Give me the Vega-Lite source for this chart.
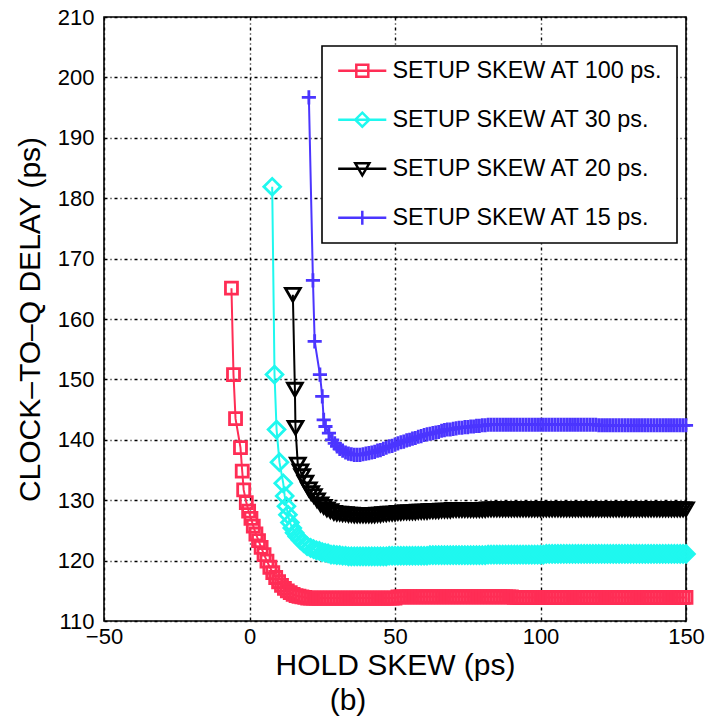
{
  "$schema": "https://vega.github.io/schema/vega-lite/v6.json",
  "width": 582,
  "height": 604,
  "autosize": {"type": "none"},
  "padding": {"left": 104, "top": 17, "right": 21, "bottom": 99},
  "background": "white",
  "config": {
    "font": "Liberation Sans",
    "view": {"stroke": "black", "strokeWidth": 1.6},
    "axis": {
      "domain": false,
      "ticks": false,
      "grid": true,
      "gridColor": "black",
      "gridDash": [3, 3, 1, 3],
      "gridWidth": 1.4,
      "gridOpacity": 1,
      "labelFont": "Liberation Sans",
      "labelFontSize": 22,
      "labelColor": "black",
      "titleFont": "Liberation Sans",
      "titleFontSize": 30,
      "titleFontWeight": "normal",
      "titleColor": "black"
    },
    "legend": {
      "orient": "none",
      "legendX": 218,
      "legendY": 29,
      "padding": 13,
      "strokeColor": "black",
      "strokeWidth": 1.6,
      "fillColor": "white",
      "labelFont": "Liberation Sans",
      "labelFontSize": 23.4,
      "labelColor": "black",
      "labelLimit": 400,
      "labelOffset": 34,
      "symbolSize": 144,
      "symbolStrokeWidth": 2.5,
      "symbolOpacity": 1,
      "rowPadding": 24
    }
  },
  "title": {
    "text": "(b)",
    "orient": "bottom",
    "anchor": "middle",
    "font": "Liberation Sans",
    "fontSize": 30,
    "fontWeight": "normal",
    "color": "black",
    "dx": -47,
    "offset": 6
  },
  "data": {
    "values": [
      {"s": "100", "x": -6.2, "y": 165.1},
      {"s": "100", "x": -5.5, "y": 150.8},
      {"s": "100", "x": -4.8, "y": 143.5},
      {"s": "100", "x": -3.1, "y": 138.7},
      {"s": "100", "x": -2.5, "y": 134.8},
      {"s": "100", "x": -2.0, "y": 131.7},
      {"s": "100", "x": -1.1, "y": 129.6},
      {"s": "100", "x": -0.3, "y": 128.2},
      {"s": "100", "x": 0.5, "y": 127.0},
      {"s": "100", "x": 1.3, "y": 125.7},
      {"s": "100", "x": 2.2, "y": 124.4},
      {"s": "100", "x": 3.1, "y": 123.3},
      {"s": "100", "x": 4, "y": 122.2},
      {"s": "100", "x": 5, "y": 121.0},
      {"s": "100", "x": 6, "y": 119.9},
      {"s": "100", "x": 7, "y": 118.9},
      {"s": "100", "x": 8, "y": 118.0},
      {"s": "100", "x": 9, "y": 117.2},
      {"s": "100", "x": 10, "y": 116.5},
      {"s": "100", "x": 11, "y": 115.9},
      {"s": "100", "x": 12, "y": 115.4},
      {"s": "100", "x": 13, "y": 115.0},
      {"s": "100", "x": 14, "y": 114.7},
      {"s": "100", "x": 15, "y": 114.4},
      {"s": "100", "x": 16, "y": 114.2},
      {"s": "100", "x": 17, "y": 114.1},
      {"s": "100", "x": 18, "y": 114.0},
      {"s": "100", "x": 19, "y": 113.9},
      {"s": "100", "x": 20, "y": 113.8},
      {"s": "100", "x": 21, "y": 113.8},
      {"s": "100", "x": 22, "y": 113.8},
      {"s": "100", "x": 23, "y": 113.8},
      {"s": "100", "x": 24, "y": 113.8},
      {"s": "100", "x": 25, "y": 113.8},
      {"s": "100", "x": 26, "y": 113.8},
      {"s": "100", "x": 27, "y": 113.8},
      {"s": "100", "x": 28, "y": 113.8},
      {"s": "100", "x": 29, "y": 113.8},
      {"s": "100", "x": 30, "y": 113.8},
      {"s": "100", "x": 31, "y": 113.8},
      {"s": "100", "x": 32, "y": 113.8},
      {"s": "100", "x": 33, "y": 113.8},
      {"s": "100", "x": 34, "y": 113.8},
      {"s": "100", "x": 35, "y": 113.8},
      {"s": "100", "x": 36, "y": 113.8},
      {"s": "100", "x": 37, "y": 113.8},
      {"s": "100", "x": 38, "y": 113.8},
      {"s": "100", "x": 39, "y": 113.8},
      {"s": "100", "x": 40, "y": 113.8},
      {"s": "100", "x": 41, "y": 113.8},
      {"s": "100", "x": 42, "y": 113.8},
      {"s": "100", "x": 43, "y": 113.8},
      {"s": "100", "x": 44, "y": 113.8},
      {"s": "100", "x": 45, "y": 113.8},
      {"s": "100", "x": 46, "y": 113.8},
      {"s": "100", "x": 47, "y": 113.8},
      {"s": "100", "x": 48, "y": 113.8},
      {"s": "100", "x": 49, "y": 113.8},
      {"s": "100", "x": 50, "y": 113.8},
      {"s": "100", "x": 51, "y": 114.0},
      {"s": "100", "x": 52, "y": 114.0},
      {"s": "100", "x": 53, "y": 114.0},
      {"s": "100", "x": 54, "y": 114.0},
      {"s": "100", "x": 55, "y": 114.0},
      {"s": "100", "x": 56, "y": 114.0},
      {"s": "100", "x": 57, "y": 114.0},
      {"s": "100", "x": 58, "y": 114.0},
      {"s": "100", "x": 59, "y": 114.0},
      {"s": "100", "x": 60, "y": 114.0},
      {"s": "100", "x": 61, "y": 114.0},
      {"s": "100", "x": 62, "y": 114.0},
      {"s": "100", "x": 63, "y": 114.0},
      {"s": "100", "x": 64, "y": 114.0},
      {"s": "100", "x": 65, "y": 114.0},
      {"s": "100", "x": 66, "y": 114.0},
      {"s": "100", "x": 67, "y": 114.0},
      {"s": "100", "x": 68, "y": 114.0},
      {"s": "100", "x": 69, "y": 114.0},
      {"s": "100", "x": 70, "y": 114.0},
      {"s": "100", "x": 71, "y": 114.0},
      {"s": "100", "x": 72, "y": 114.0},
      {"s": "100", "x": 73, "y": 114.0},
      {"s": "100", "x": 74, "y": 114.0},
      {"s": "100", "x": 75, "y": 114.0},
      {"s": "100", "x": 76, "y": 114.0},
      {"s": "100", "x": 77, "y": 114.0},
      {"s": "100", "x": 78, "y": 114.0},
      {"s": "100", "x": 79, "y": 114.0},
      {"s": "100", "x": 80, "y": 114.0},
      {"s": "100", "x": 81, "y": 114.0},
      {"s": "100", "x": 82, "y": 114.0},
      {"s": "100", "x": 83, "y": 114.0},
      {"s": "100", "x": 84, "y": 114.0},
      {"s": "100", "x": 85, "y": 114.0},
      {"s": "100", "x": 86, "y": 114.0},
      {"s": "100", "x": 87, "y": 114.0},
      {"s": "100", "x": 88, "y": 114.0},
      {"s": "100", "x": 89, "y": 114.0},
      {"s": "100", "x": 90, "y": 114.0},
      {"s": "100", "x": 91, "y": 113.9},
      {"s": "100", "x": 92, "y": 113.9},
      {"s": "100", "x": 93, "y": 113.9},
      {"s": "100", "x": 94, "y": 113.9},
      {"s": "100", "x": 95, "y": 113.9},
      {"s": "100", "x": 96, "y": 113.9},
      {"s": "100", "x": 97, "y": 113.9},
      {"s": "100", "x": 98, "y": 113.9},
      {"s": "100", "x": 99, "y": 113.9},
      {"s": "100", "x": 100, "y": 113.9},
      {"s": "100", "x": 101, "y": 113.9},
      {"s": "100", "x": 102, "y": 113.9},
      {"s": "100", "x": 103, "y": 113.9},
      {"s": "100", "x": 104, "y": 113.9},
      {"s": "100", "x": 105, "y": 113.9},
      {"s": "100", "x": 106, "y": 113.9},
      {"s": "100", "x": 107, "y": 113.9},
      {"s": "100", "x": 108, "y": 113.9},
      {"s": "100", "x": 109, "y": 113.9},
      {"s": "100", "x": 110, "y": 113.9},
      {"s": "100", "x": 111, "y": 113.9},
      {"s": "100", "x": 112, "y": 113.9},
      {"s": "100", "x": 113, "y": 113.9},
      {"s": "100", "x": 114, "y": 113.9},
      {"s": "100", "x": 115, "y": 113.9},
      {"s": "100", "x": 116, "y": 113.9},
      {"s": "100", "x": 117, "y": 113.9},
      {"s": "100", "x": 118, "y": 113.9},
      {"s": "100", "x": 119, "y": 113.9},
      {"s": "100", "x": 120, "y": 113.9},
      {"s": "100", "x": 121, "y": 113.9},
      {"s": "100", "x": 122, "y": 113.9},
      {"s": "100", "x": 123, "y": 113.9},
      {"s": "100", "x": 124, "y": 113.9},
      {"s": "100", "x": 125, "y": 113.9},
      {"s": "100", "x": 126, "y": 113.9},
      {"s": "100", "x": 127, "y": 113.9},
      {"s": "100", "x": 128, "y": 113.9},
      {"s": "100", "x": 129, "y": 113.9},
      {"s": "100", "x": 130, "y": 113.9},
      {"s": "100", "x": 131, "y": 113.9},
      {"s": "100", "x": 132, "y": 113.9},
      {"s": "100", "x": 133, "y": 113.9},
      {"s": "100", "x": 134, "y": 113.9},
      {"s": "100", "x": 135, "y": 113.9},
      {"s": "100", "x": 136, "y": 113.9},
      {"s": "100", "x": 137, "y": 113.9},
      {"s": "100", "x": 138, "y": 113.9},
      {"s": "100", "x": 139, "y": 113.9},
      {"s": "100", "x": 140, "y": 113.9},
      {"s": "100", "x": 141, "y": 113.9},
      {"s": "100", "x": 142, "y": 113.9},
      {"s": "100", "x": 143, "y": 113.9},
      {"s": "100", "x": 144, "y": 113.9},
      {"s": "100", "x": 145, "y": 113.9},
      {"s": "100", "x": 146, "y": 113.9},
      {"s": "100", "x": 147, "y": 113.9},
      {"s": "100", "x": 148, "y": 113.9},
      {"s": "100", "x": 149, "y": 113.9},
      {"s": "100", "x": 150, "y": 113.9},

      {"s": "30", "x": 7.8, "y": 181.9},
      {"s": "30", "x": 8.6, "y": 150.8},
      {"s": "30", "x": 9.3, "y": 141.7},
      {"s": "30", "x": 10.3, "y": 136.3},
      {"s": "30", "x": 11.6, "y": 132.8},
      {"s": "30", "x": 12.1, "y": 130.7},
      {"s": "30", "x": 12.7, "y": 129.0},
      {"s": "30", "x": 13.2, "y": 127.6},
      {"s": "30", "x": 13.9, "y": 126.3},
      {"s": "30", "x": 14.7, "y": 125.4},
      {"s": "30", "x": 15.5, "y": 124.6},
      {"s": "30", "x": 16.4, "y": 124.0},
      {"s": "30", "x": 17.5, "y": 123.4},
      {"s": "30", "x": 18.6, "y": 122.9},
      {"s": "30", "x": 19.8, "y": 122.4},
      {"s": "30", "x": 21, "y": 122.1},
      {"s": "30", "x": 22, "y": 121.9},
      {"s": "30", "x": 23, "y": 121.7},
      {"s": "30", "x": 24, "y": 121.6},
      {"s": "30", "x": 25, "y": 121.4},
      {"s": "30", "x": 26, "y": 121.3},
      {"s": "30", "x": 27, "y": 121.2},
      {"s": "30", "x": 28, "y": 121.0},
      {"s": "30", "x": 29, "y": 121.0},
      {"s": "30", "x": 30, "y": 120.9},
      {"s": "30", "x": 31, "y": 120.9},
      {"s": "30", "x": 32, "y": 120.8},
      {"s": "30", "x": 33, "y": 120.8},
      {"s": "30", "x": 34, "y": 120.7},
      {"s": "30", "x": 35, "y": 120.7},
      {"s": "30", "x": 36, "y": 120.7},
      {"s": "30", "x": 37, "y": 120.7},
      {"s": "30", "x": 38, "y": 120.7},
      {"s": "30", "x": 39, "y": 120.7},
      {"s": "30", "x": 40, "y": 120.7},
      {"s": "30", "x": 41, "y": 120.7},
      {"s": "30", "x": 42, "y": 120.7},
      {"s": "30", "x": 43, "y": 120.7},
      {"s": "30", "x": 44, "y": 120.7},
      {"s": "30", "x": 45, "y": 120.7},
      {"s": "30", "x": 46, "y": 120.7},
      {"s": "30", "x": 47, "y": 120.7},
      {"s": "30", "x": 48, "y": 120.8},
      {"s": "30", "x": 49, "y": 120.8},
      {"s": "30", "x": 50, "y": 120.8},
      {"s": "30", "x": 51, "y": 120.8},
      {"s": "30", "x": 52, "y": 120.8},
      {"s": "30", "x": 53, "y": 120.8},
      {"s": "30", "x": 54, "y": 120.8},
      {"s": "30", "x": 55, "y": 120.8},
      {"s": "30", "x": 56, "y": 120.8},
      {"s": "30", "x": 57, "y": 120.8},
      {"s": "30", "x": 58, "y": 120.8},
      {"s": "30", "x": 59, "y": 120.8},
      {"s": "30", "x": 60, "y": 120.8},
      {"s": "30", "x": 61, "y": 120.8},
      {"s": "30", "x": 62, "y": 120.9},
      {"s": "30", "x": 63, "y": 120.9},
      {"s": "30", "x": 64, "y": 120.9},
      {"s": "30", "x": 65, "y": 120.9},
      {"s": "30", "x": 66, "y": 120.9},
      {"s": "30", "x": 67, "y": 120.9},
      {"s": "30", "x": 68, "y": 120.9},
      {"s": "30", "x": 69, "y": 120.9},
      {"s": "30", "x": 70, "y": 120.9},
      {"s": "30", "x": 71, "y": 120.9},
      {"s": "30", "x": 72, "y": 120.9},
      {"s": "30", "x": 73, "y": 120.9},
      {"s": "30", "x": 74, "y": 120.9},
      {"s": "30", "x": 75, "y": 120.9},
      {"s": "30", "x": 76, "y": 120.9},
      {"s": "30", "x": 77, "y": 120.9},
      {"s": "30", "x": 78, "y": 120.9},
      {"s": "30", "x": 79, "y": 120.9},
      {"s": "30", "x": 80, "y": 120.9},
      {"s": "30", "x": 81, "y": 120.9},
      {"s": "30", "x": 82, "y": 121.0},
      {"s": "30", "x": 83, "y": 121.0},
      {"s": "30", "x": 84, "y": 121.0},
      {"s": "30", "x": 85, "y": 121.0},
      {"s": "30", "x": 86, "y": 121.0},
      {"s": "30", "x": 87, "y": 121.0},
      {"s": "30", "x": 88, "y": 121.0},
      {"s": "30", "x": 89, "y": 121.0},
      {"s": "30", "x": 90, "y": 121.0},
      {"s": "30", "x": 91, "y": 121.0},
      {"s": "30", "x": 92, "y": 121.0},
      {"s": "30", "x": 93, "y": 121.0},
      {"s": "30", "x": 94, "y": 121.0},
      {"s": "30", "x": 95, "y": 121.0},
      {"s": "30", "x": 96, "y": 121.0},
      {"s": "30", "x": 97, "y": 121.0},
      {"s": "30", "x": 98, "y": 121.0},
      {"s": "30", "x": 99, "y": 121.0},
      {"s": "30", "x": 100, "y": 121.0},
      {"s": "30", "x": 101, "y": 121.0},
      {"s": "30", "x": 102, "y": 121.1},
      {"s": "30", "x": 103, "y": 121.1},
      {"s": "30", "x": 104, "y": 121.1},
      {"s": "30", "x": 105, "y": 121.1},
      {"s": "30", "x": 106, "y": 121.1},
      {"s": "30", "x": 107, "y": 121.1},
      {"s": "30", "x": 108, "y": 121.1},
      {"s": "30", "x": 109, "y": 121.1},
      {"s": "30", "x": 110, "y": 121.1},
      {"s": "30", "x": 111, "y": 121.1},
      {"s": "30", "x": 112, "y": 121.1},
      {"s": "30", "x": 113, "y": 121.1},
      {"s": "30", "x": 114, "y": 121.1},
      {"s": "30", "x": 115, "y": 121.1},
      {"s": "30", "x": 116, "y": 121.1},
      {"s": "30", "x": 117, "y": 121.1},
      {"s": "30", "x": 118, "y": 121.1},
      {"s": "30", "x": 119, "y": 121.1},
      {"s": "30", "x": 120, "y": 121.1},
      {"s": "30", "x": 121, "y": 121.1},
      {"s": "30", "x": 122, "y": 121.1},
      {"s": "30", "x": 123, "y": 121.1},
      {"s": "30", "x": 124, "y": 121.1},
      {"s": "30", "x": 125, "y": 121.1},
      {"s": "30", "x": 126, "y": 121.1},
      {"s": "30", "x": 127, "y": 121.1},
      {"s": "30", "x": 128, "y": 121.1},
      {"s": "30", "x": 129, "y": 121.1},
      {"s": "30", "x": 130, "y": 121.1},
      {"s": "30", "x": 131, "y": 121.1},
      {"s": "30", "x": 132, "y": 121.1},
      {"s": "30", "x": 133, "y": 121.1},
      {"s": "30", "x": 134, "y": 121.1},
      {"s": "30", "x": 135, "y": 121.1},
      {"s": "30", "x": 136, "y": 121.1},
      {"s": "30", "x": 137, "y": 121.1},
      {"s": "30", "x": 138, "y": 121.1},
      {"s": "30", "x": 139, "y": 121.1},
      {"s": "30", "x": 140, "y": 121.1},
      {"s": "30", "x": 141, "y": 121.1},
      {"s": "30", "x": 142, "y": 121.1},
      {"s": "30", "x": 143, "y": 121.1},
      {"s": "30", "x": 144, "y": 121.1},
      {"s": "30", "x": 145, "y": 121.1},
      {"s": "30", "x": 146, "y": 121.1},
      {"s": "30", "x": 147, "y": 121.1},
      {"s": "30", "x": 148, "y": 121.1},
      {"s": "30", "x": 149, "y": 121.1},
      {"s": "30", "x": 150, "y": 121.1},

      {"s": "20", "x": 14.9, "y": 164.0},
      {"s": "20", "x": 15.6, "y": 148.3},
      {"s": "20", "x": 15.8, "y": 142.0},
      {"s": "20", "x": 16.6, "y": 135.9},
      {"s": "20", "x": 17.5, "y": 134.8},
      {"s": "20", "x": 18.1, "y": 134.0},
      {"s": "20", "x": 19.2, "y": 132.9},
      {"s": "20", "x": 20.4, "y": 131.8},
      {"s": "20", "x": 21.2, "y": 131.2},
      {"s": "20", "x": 22.1, "y": 130.7},
      {"s": "20", "x": 23.2, "y": 130.0},
      {"s": "20", "x": 24.4, "y": 129.3},
      {"s": "20", "x": 25.5, "y": 128.9},
      {"s": "20", "x": 26.6, "y": 128.5},
      {"s": "20", "x": 27.8, "y": 128.2},
      {"s": "20", "x": 29, "y": 127.9},
      {"s": "20", "x": 30, "y": 127.8},
      {"s": "20", "x": 31, "y": 127.8},
      {"s": "20", "x": 32, "y": 127.7},
      {"s": "20", "x": 33, "y": 127.7},
      {"s": "20", "x": 34, "y": 127.6},
      {"s": "20", "x": 35, "y": 127.6},
      {"s": "20", "x": 36, "y": 127.5},
      {"s": "20", "x": 37, "y": 127.5},
      {"s": "20", "x": 38, "y": 127.5},
      {"s": "20", "x": 39, "y": 127.5},
      {"s": "20", "x": 40, "y": 127.5},
      {"s": "20", "x": 41, "y": 127.5},
      {"s": "20", "x": 42, "y": 127.5},
      {"s": "20", "x": 43, "y": 127.5},
      {"s": "20", "x": 44, "y": 127.6},
      {"s": "20", "x": 45, "y": 127.6},
      {"s": "20", "x": 46, "y": 127.7},
      {"s": "20", "x": 47, "y": 127.7},
      {"s": "20", "x": 48, "y": 127.8},
      {"s": "20", "x": 49, "y": 127.8},
      {"s": "20", "x": 50, "y": 127.8},
      {"s": "20", "x": 51, "y": 127.9},
      {"s": "20", "x": 52, "y": 127.9},
      {"s": "20", "x": 53, "y": 128.0},
      {"s": "20", "x": 54, "y": 128.0},
      {"s": "20", "x": 55, "y": 128.0},
      {"s": "20", "x": 56, "y": 128.0},
      {"s": "20", "x": 57, "y": 128.0},
      {"s": "20", "x": 58, "y": 128.1},
      {"s": "20", "x": 59, "y": 128.1},
      {"s": "20", "x": 60, "y": 128.1},
      {"s": "20", "x": 61, "y": 128.1},
      {"s": "20", "x": 62, "y": 128.2},
      {"s": "20", "x": 63, "y": 128.2},
      {"s": "20", "x": 64, "y": 128.2},
      {"s": "20", "x": 65, "y": 128.2},
      {"s": "20", "x": 66, "y": 128.3},
      {"s": "20", "x": 67, "y": 128.3},
      {"s": "20", "x": 68, "y": 128.3},
      {"s": "20", "x": 69, "y": 128.3},
      {"s": "20", "x": 70, "y": 128.4},
      {"s": "20", "x": 71, "y": 128.4},
      {"s": "20", "x": 72, "y": 128.4},
      {"s": "20", "x": 73, "y": 128.4},
      {"s": "20", "x": 74, "y": 128.4},
      {"s": "20", "x": 75, "y": 128.4},
      {"s": "20", "x": 76, "y": 128.4},
      {"s": "20", "x": 77, "y": 128.4},
      {"s": "20", "x": 78, "y": 128.4},
      {"s": "20", "x": 79, "y": 128.4},
      {"s": "20", "x": 80, "y": 128.4},
      {"s": "20", "x": 81, "y": 128.4},
      {"s": "20", "x": 82, "y": 128.5},
      {"s": "20", "x": 83, "y": 128.5},
      {"s": "20", "x": 84, "y": 128.5},
      {"s": "20", "x": 85, "y": 128.5},
      {"s": "20", "x": 86, "y": 128.5},
      {"s": "20", "x": 87, "y": 128.5},
      {"s": "20", "x": 88, "y": 128.5},
      {"s": "20", "x": 89, "y": 128.5},
      {"s": "20", "x": 90, "y": 128.5},
      {"s": "20", "x": 91, "y": 128.5},
      {"s": "20", "x": 92, "y": 128.5},
      {"s": "20", "x": 93, "y": 128.5},
      {"s": "20", "x": 94, "y": 128.5},
      {"s": "20", "x": 95, "y": 128.5},
      {"s": "20", "x": 96, "y": 128.5},
      {"s": "20", "x": 97, "y": 128.5},
      {"s": "20", "x": 98, "y": 128.5},
      {"s": "20", "x": 99, "y": 128.5},
      {"s": "20", "x": 100, "y": 128.5},
      {"s": "20", "x": 101, "y": 128.5},
      {"s": "20", "x": 102, "y": 128.5},
      {"s": "20", "x": 103, "y": 128.5},
      {"s": "20", "x": 104, "y": 128.5},
      {"s": "20", "x": 105, "y": 128.5},
      {"s": "20", "x": 106, "y": 128.5},
      {"s": "20", "x": 107, "y": 128.5},
      {"s": "20", "x": 108, "y": 128.5},
      {"s": "20", "x": 109, "y": 128.5},
      {"s": "20", "x": 110, "y": 128.5},
      {"s": "20", "x": 111, "y": 128.5},
      {"s": "20", "x": 112, "y": 128.5},
      {"s": "20", "x": 113, "y": 128.5},
      {"s": "20", "x": 114, "y": 128.5},
      {"s": "20", "x": 115, "y": 128.5},
      {"s": "20", "x": 116, "y": 128.5},
      {"s": "20", "x": 117, "y": 128.5},
      {"s": "20", "x": 118, "y": 128.5},
      {"s": "20", "x": 119, "y": 128.5},
      {"s": "20", "x": 120, "y": 128.5},
      {"s": "20", "x": 121, "y": 128.5},
      {"s": "20", "x": 122, "y": 128.5},
      {"s": "20", "x": 123, "y": 128.5},
      {"s": "20", "x": 124, "y": 128.5},
      {"s": "20", "x": 125, "y": 128.5},
      {"s": "20", "x": 126, "y": 128.5},
      {"s": "20", "x": 127, "y": 128.5},
      {"s": "20", "x": 128, "y": 128.5},
      {"s": "20", "x": 129, "y": 128.5},
      {"s": "20", "x": 130, "y": 128.5},
      {"s": "20", "x": 131, "y": 128.5},
      {"s": "20", "x": 132, "y": 128.5},
      {"s": "20", "x": 133, "y": 128.5},
      {"s": "20", "x": 134, "y": 128.5},
      {"s": "20", "x": 135, "y": 128.5},
      {"s": "20", "x": 136, "y": 128.5},
      {"s": "20", "x": 137, "y": 128.5},
      {"s": "20", "x": 138, "y": 128.5},
      {"s": "20", "x": 139, "y": 128.5},
      {"s": "20", "x": 140, "y": 128.5},
      {"s": "20", "x": 141, "y": 128.5},
      {"s": "20", "x": 142, "y": 128.5},
      {"s": "20", "x": 143, "y": 128.5},
      {"s": "20", "x": 144, "y": 128.5},
      {"s": "20", "x": 145, "y": 128.5},
      {"s": "20", "x": 146, "y": 128.5},
      {"s": "20", "x": 147, "y": 128.5},
      {"s": "20", "x": 148, "y": 128.5},
      {"s": "20", "x": 149, "y": 128.5},
      {"s": "20", "x": 150, "y": 128.5},

      {"s": "15", "x": 20.4, "y": 196.7},
      {"s": "15", "x": 21.8, "y": 166.4},
      {"s": "15", "x": 22.4, "y": 156.3},
      {"s": "15", "x": 24.2, "y": 150.8},
      {"s": "15", "x": 25.0, "y": 147.2},
      {"s": "15", "x": 25.5, "y": 143.3},
      {"s": "15", "x": 26.1, "y": 142.2},
      {"s": "15", "x": 27.3, "y": 141.1},
      {"s": "15", "x": 28.4, "y": 140.0},
      {"s": "15", "x": 29.3, "y": 139.4},
      {"s": "15", "x": 30.1, "y": 138.9},
      {"s": "15", "x": 31, "y": 138.5},
      {"s": "15", "x": 32, "y": 138.2},
      {"s": "15", "x": 33, "y": 137.9},
      {"s": "15", "x": 34, "y": 137.7},
      {"s": "15", "x": 35, "y": 137.6},
      {"s": "15", "x": 36, "y": 137.5},
      {"s": "15", "x": 37, "y": 137.5},
      {"s": "15", "x": 38, "y": 137.5},
      {"s": "15", "x": 39, "y": 137.6},
      {"s": "15", "x": 40, "y": 137.7},
      {"s": "15", "x": 41, "y": 137.8},
      {"s": "15", "x": 42, "y": 137.9},
      {"s": "15", "x": 43, "y": 138.0},
      {"s": "15", "x": 44, "y": 138.2},
      {"s": "15", "x": 45, "y": 138.3},
      {"s": "15", "x": 46, "y": 138.5},
      {"s": "15", "x": 47, "y": 138.7},
      {"s": "15", "x": 48, "y": 138.9},
      {"s": "15", "x": 49, "y": 139.0},
      {"s": "15", "x": 50, "y": 139.2},
      {"s": "15", "x": 51, "y": 139.4},
      {"s": "15", "x": 52, "y": 139.6},
      {"s": "15", "x": 53, "y": 139.7},
      {"s": "15", "x": 54, "y": 139.9},
      {"s": "15", "x": 55, "y": 140.0},
      {"s": "15", "x": 56, "y": 140.2},
      {"s": "15", "x": 57, "y": 140.3},
      {"s": "15", "x": 58, "y": 140.5},
      {"s": "15", "x": 59, "y": 140.6},
      {"s": "15", "x": 60, "y": 140.8},
      {"s": "15", "x": 61, "y": 140.9},
      {"s": "15", "x": 62, "y": 141.0},
      {"s": "15", "x": 63, "y": 141.1},
      {"s": "15", "x": 64, "y": 141.2},
      {"s": "15", "x": 65, "y": 141.3},
      {"s": "15", "x": 66, "y": 141.5},
      {"s": "15", "x": 67, "y": 141.6},
      {"s": "15", "x": 68, "y": 141.7},
      {"s": "15", "x": 69, "y": 141.7},
      {"s": "15", "x": 70, "y": 141.8},
      {"s": "15", "x": 71, "y": 141.9},
      {"s": "15", "x": 72, "y": 142.0},
      {"s": "15", "x": 73, "y": 142.0},
      {"s": "15", "x": 74, "y": 142.1},
      {"s": "15", "x": 75, "y": 142.1},
      {"s": "15", "x": 76, "y": 142.2},
      {"s": "15", "x": 77, "y": 142.2},
      {"s": "15", "x": 78, "y": 142.3},
      {"s": "15", "x": 79, "y": 142.3},
      {"s": "15", "x": 80, "y": 142.4},
      {"s": "15", "x": 81, "y": 142.4},
      {"s": "15", "x": 82, "y": 142.5},
      {"s": "15", "x": 83, "y": 142.5},
      {"s": "15", "x": 84, "y": 142.5},
      {"s": "15", "x": 85, "y": 142.5},
      {"s": "15", "x": 86, "y": 142.5},
      {"s": "15", "x": 87, "y": 142.5},
      {"s": "15", "x": 88, "y": 142.5},
      {"s": "15", "x": 89, "y": 142.5},
      {"s": "15", "x": 90, "y": 142.5},
      {"s": "15", "x": 91, "y": 142.5},
      {"s": "15", "x": 92, "y": 142.5},
      {"s": "15", "x": 93, "y": 142.5},
      {"s": "15", "x": 94, "y": 142.5},
      {"s": "15", "x": 95, "y": 142.5},
      {"s": "15", "x": 96, "y": 142.5},
      {"s": "15", "x": 97, "y": 142.5},
      {"s": "15", "x": 98, "y": 142.5},
      {"s": "15", "x": 99, "y": 142.5},
      {"s": "15", "x": 100, "y": 142.5},
      {"s": "15", "x": 101, "y": 142.5},
      {"s": "15", "x": 102, "y": 142.5},
      {"s": "15", "x": 103, "y": 142.5},
      {"s": "15", "x": 104, "y": 142.5},
      {"s": "15", "x": 105, "y": 142.5},
      {"s": "15", "x": 106, "y": 142.5},
      {"s": "15", "x": 107, "y": 142.5},
      {"s": "15", "x": 108, "y": 142.5},
      {"s": "15", "x": 109, "y": 142.5},
      {"s": "15", "x": 110, "y": 142.5},
      {"s": "15", "x": 111, "y": 142.5},
      {"s": "15", "x": 112, "y": 142.5},
      {"s": "15", "x": 113, "y": 142.5},
      {"s": "15", "x": 114, "y": 142.5},
      {"s": "15", "x": 115, "y": 142.5},
      {"s": "15", "x": 116, "y": 142.5},
      {"s": "15", "x": 117, "y": 142.5},
      {"s": "15", "x": 118, "y": 142.5},
      {"s": "15", "x": 119, "y": 142.5},
      {"s": "15", "x": 120, "y": 142.4},
      {"s": "15", "x": 121, "y": 142.4},
      {"s": "15", "x": 122, "y": 142.4},
      {"s": "15", "x": 123, "y": 142.4},
      {"s": "15", "x": 124, "y": 142.4},
      {"s": "15", "x": 125, "y": 142.4},
      {"s": "15", "x": 126, "y": 142.4},
      {"s": "15", "x": 127, "y": 142.4},
      {"s": "15", "x": 128, "y": 142.4},
      {"s": "15", "x": 129, "y": 142.4},
      {"s": "15", "x": 130, "y": 142.4},
      {"s": "15", "x": 131, "y": 142.4},
      {"s": "15", "x": 132, "y": 142.4},
      {"s": "15", "x": 133, "y": 142.4},
      {"s": "15", "x": 134, "y": 142.4},
      {"s": "15", "x": 135, "y": 142.4},
      {"s": "15", "x": 136, "y": 142.4},
      {"s": "15", "x": 137, "y": 142.4},
      {"s": "15", "x": 138, "y": 142.4},
      {"s": "15", "x": 139, "y": 142.4},
      {"s": "15", "x": 140, "y": 142.4},
      {"s": "15", "x": 141, "y": 142.4},
      {"s": "15", "x": 142, "y": 142.4},
      {"s": "15", "x": 143, "y": 142.4},
      {"s": "15", "x": 144, "y": 142.4},
      {"s": "15", "x": 145, "y": 142.4},
      {"s": "15", "x": 146, "y": 142.4},
      {"s": "15", "x": 147, "y": 142.4},
      {"s": "15", "x": 148, "y": 142.4},
      {"s": "15", "x": 149, "y": 142.4},
      {"s": "15", "x": 150, "y": 142.4}
    ]
  },
  "encoding": {
    "x": {
      "field": "x",
      "type": "quantitative",
      "scale": {"domain": [-50, 150], "nice": false, "zero": false},
      "axis": {"values": [-50, 0, 50, 100, 150], "title": "HOLD SKEW (ps)", "labelPadding": 5, "titlePadding": 3, "labelFlush": false}
    },
    "y": {
      "field": "y",
      "type": "quantitative",
      "scale": {"domain": [110, 210], "nice": false, "zero": false},
      "axis": {"values": [110, 120, 130, 140, 150, 160, 170, 180, 190, 200, 210], "title": "CLOCK–TO–Q DELAY (ps)", "labelPadding": 10, "titlePadding": 12, "labelFlush": false}
    },
    "color": {
      "field": "s",
      "type": "nominal",
      "scale": {"domain": ["100", "30", "20", "15"], "range": ["#ff2d55", "#1ff8ef", "#000000", "#4b35ff"]},
      "legend": {"title": null, "labelExpr": "'SETUP SKEW AT ' + datum.label + ' ps.'"}
    }
  },
  "layer": [
    {
      "mark": {"type": "line", "strokeWidth": 2},
      "encoding": {"order": {"field": "x", "type": "quantitative"}}
    },
    {
      "transform": [{"filter": "datum.s == '100'"}],
      "mark": {"type": "point", "shape": "square", "size": 144, "filled": false, "strokeWidth": 2.8, "opacity": 1}
    },
    {
      "transform": [{"filter": "datum.s == '30'"}],
      "mark": {"type": "point", "shape": "diamond", "size": 280, "filled": false, "strokeWidth": 2.8, "opacity": 1}
    },
    {
      "transform": [{"filter": "datum.s == '20'"}],
      "mark": {"type": "point", "shape": "triangle-down", "size": 220, "filled": false, "strokeWidth": 2.8, "opacity": 1}
    },
    {
      "transform": [{"filter": "datum.s == '15'"}],
      "mark": {"type": "point", "shape": "M-1,0H1M0,-1V1", "size": 200, "filled": false, "strokeWidth": 2.8, "opacity": 1}
    },
    {
      "transform": [{"filter": "false"}],
      "mark": {"type": "point", "filled": false, "strokeWidth": 2.5, "opacity": 1},
      "encoding": {
        "shape": {
          "field": "s",
          "type": "nominal",
          "scale": {
            "domain": ["100", "30", "20", "15"],
            "range": [
              "M-1.42,0H6.6M1.6,-1H3.6V1H1.6Z",
              "M-1.42,0H6.6M2.6,-1.17L3.77,0L2.6,1.17L1.43,0Z",
              "M-1.42,0H6.6M1.43,-0.9H3.77L2.6,1.1Z",
              "M-1.42,0H6.6M2.6,-1.17V1.17"
            ]
          },
          "legend": {"title": null, "labelExpr": "'SETUP SKEW AT ' + datum.label + ' ps.'"}
        }
      }
    }
  ]
}
